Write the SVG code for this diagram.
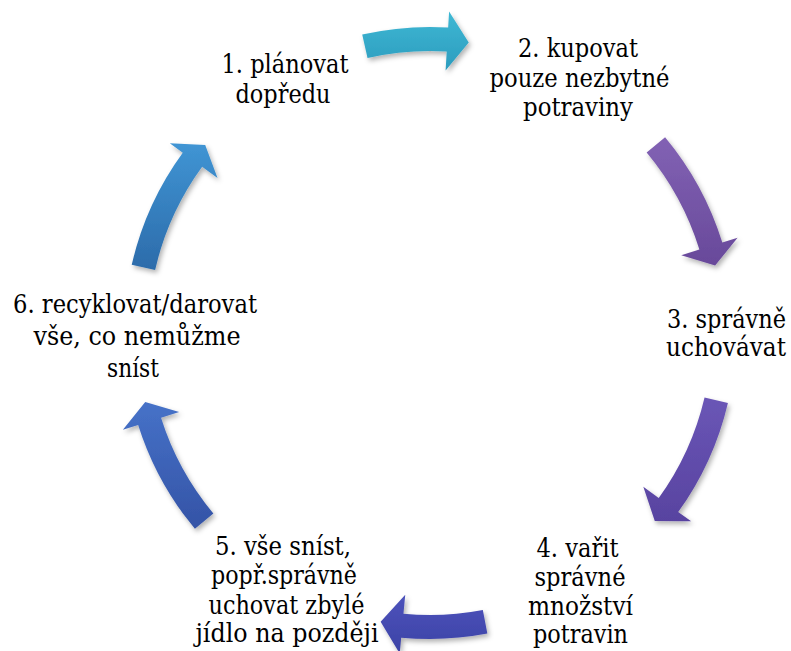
<svg xmlns="http://www.w3.org/2000/svg" width="791" height="651" viewBox="0 0 791 651">
<style>
  text { font-family: "DejaVu Serif Condensed", "DejaVu Serif", serif; font-stretch: condensed; font-size: 25.5px; fill: #000; text-anchor: middle; }
  .arrow { filter: url(#shadow); }
</style>
<defs>
  <filter id="shadow" x="-20%" y="-20%" width="140%" height="140%">
    <feDropShadow dx="2" dy="3" stdDeviation="2.5" flood-color="#000" flood-opacity="0.3"/>
  </filter>
  <linearGradient id="g1" x1="0" y1="0" x2="0" y2="1"><stop offset="0" stop-color="#3FB8D4"/><stop offset="1" stop-color="#2C9CBE"/></linearGradient>
  <linearGradient id="g2" x1="0" y1="0" x2="0" y2="1"><stop offset="0" stop-color="#8262B4"/><stop offset="1" stop-color="#68499A"/></linearGradient>
  <linearGradient id="g3" x1="0" y1="0" x2="0" y2="1"><stop offset="0" stop-color="#6A56B6"/><stop offset="1" stop-color="#5843A0"/></linearGradient>
  <linearGradient id="g4" x1="0" y1="0" x2="0" y2="1"><stop offset="0" stop-color="#4D53BB"/><stop offset="1" stop-color="#3C42A6"/></linearGradient>
  <linearGradient id="g5" x1="0" y1="0" x2="0" y2="1"><stop offset="0" stop-color="#4672C8"/><stop offset="1" stop-color="#3453A6"/></linearGradient>
  <linearGradient id="g6" x1="0" y1="0" x2="0" y2="1"><stop offset="0" stop-color="#4095D4"/><stop offset="1" stop-color="#2C6BAA"/></linearGradient>
</defs>
<rect width="791" height="651" fill="#fff"/>
<g id="connectors">
  <path class="arrow" fill="url(#g1)" d="M362.21,34.60 A306,306 0 0 1 448.15,27.54 L449.10,11.57 L468.75,42.57 L445.60,70.46 L446.73,51.50 A282,282 0 0 0 367.53,58.01 Z"/>
  <path class="arrow" fill="url(#g2)" d="M665.09,137.13 A306,306 0 0 1 722.32,242.51 L737.60,237.78 L715.14,265.60 L681.24,255.23 L699.39,249.61 A282,282 0 0 0 646.65,152.49 Z"/>
  <path class="arrow" fill="url(#g3)" d="M727.92,402.88 A306,306 0 0 1 678.18,512.00 L691.16,521.36 L654.78,520.94 L643.31,486.84 L658.72,497.96 A282,282 0 0 0 704.55,397.39 Z"/>
  <path class="arrow" fill="url(#g4)" d="M487.34,633.58 A306,306 0 0 1 401.20,637.64 L399.70,653.57 L380.63,621.81 L405.25,594.83 L403.46,613.75 A282,282 0 0 0 482.84,610.01 Z"/>
  <path class="arrow" fill="url(#g5)" d="M194.91,528.87 A306,306 0 0 1 138.16,425.02 L122.90,429.83 L145.22,401.90 L179.17,412.09 L161.05,417.80 A282,282 0 0 0 213.35,513.51 Z"/>
  <path class="arrow" fill="url(#g6)" d="M131.72,264.69 A306,306 0 0 1 182.76,152.70 L169.83,143.28 L205.22,145.06 L217.50,178.04 L202.15,166.85 A282,282 0 0 0 155.11,270.04 Z"/>
</g>
<g id="node1">
  <text x="285" y="73" textLength="127" lengthAdjust="spacingAndGlyphs">1. plánovat</text>
  <text x="283" y="103" textLength="95" lengthAdjust="spacingAndGlyphs">dopředu</text>
</g>
<g id="node2">
  <text x="578" y="57" textLength="120" lengthAdjust="spacingAndGlyphs">2. kupovat</text>
  <text x="579.5" y="87" textLength="180" lengthAdjust="spacingAndGlyphs">pouze nezbytné</text>
  <text x="578" y="116" textLength="110" lengthAdjust="spacingAndGlyphs">potraviny</text>
</g>
<g id="node3">
  <text x="726.5" y="328" textLength="119" lengthAdjust="spacingAndGlyphs">3. správně</text>
  <text x="726" y="356" textLength="120" lengthAdjust="spacingAndGlyphs">uchovávat</text>
</g>
<g id="node4">
  <text x="577.5" y="557" textLength="82" lengthAdjust="spacingAndGlyphs">4. vařit</text>
  <text x="580" y="586" textLength="91" lengthAdjust="spacingAndGlyphs">správné</text>
  <text x="580.5" y="615" textLength="105" lengthAdjust="spacingAndGlyphs">množství</text>
  <text x="580.5" y="643" textLength="95" lengthAdjust="spacingAndGlyphs">potravin</text>
</g>
<g id="node5">
  <text x="283" y="555" textLength="136" lengthAdjust="spacingAndGlyphs">5. vše sníst,</text>
  <text x="284" y="584" textLength="146" lengthAdjust="spacingAndGlyphs">popř.správně</text>
  <text x="286.5" y="614" textLength="156" lengthAdjust="spacingAndGlyphs">uchovat zbylé</text>
  <text x="287" y="642" textLength="183" lengthAdjust="spacingAndGlyphs">jídlo na později</text>
</g>
<g id="node6">
  <text x="135" y="313" textLength="244" lengthAdjust="spacingAndGlyphs">6. recyklovat/darovat</text>
  <text x="137" y="345" textLength="207" lengthAdjust="spacingAndGlyphs">vše, co nemůžme</text>
  <text x="133" y="377" textLength="52" lengthAdjust="spacingAndGlyphs">sníst</text>
</g>
</svg>
